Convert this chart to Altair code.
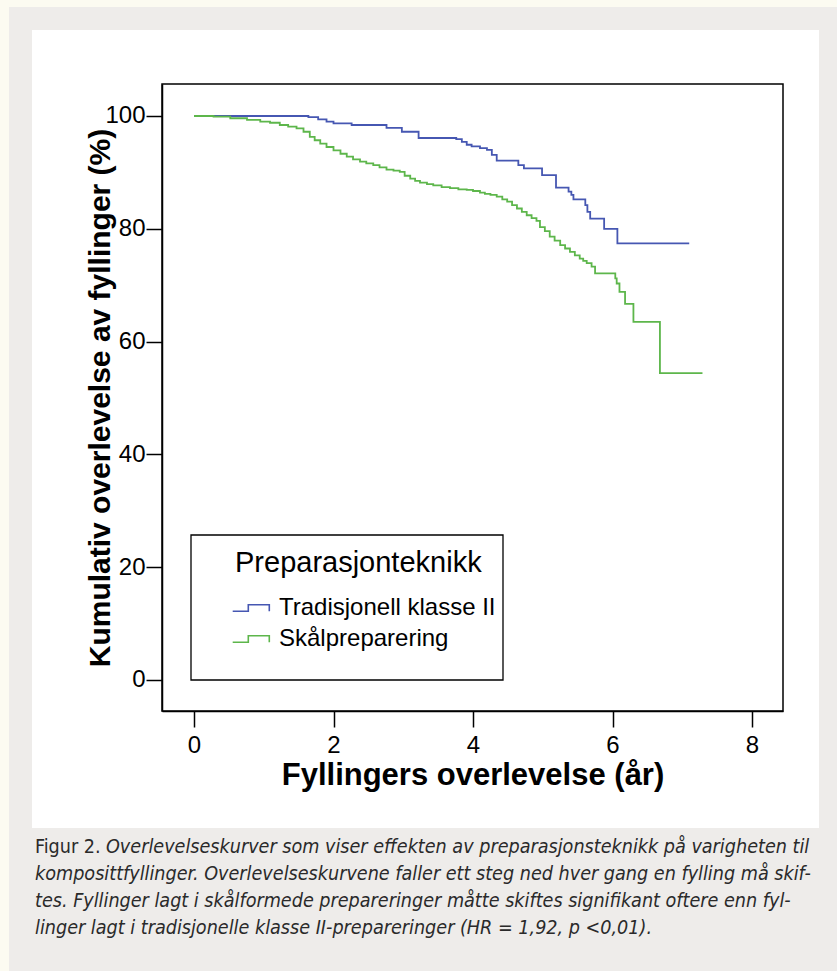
import altair as alt
import pandas as pd

# ---------------- data ----------------
series_names = ["Tradisjonell klasse II", "Skålpreparering"]
series_colors = ["#4657b2", "#5db64b"]

blue_t = [0, 1.64, 1.78, 1.90, 2.00, 2.26, 2.76, 2.98, 3.22, 3.76, 3.84, 3.91, 3.98, 4.10,
          4.20, 4.27, 4.34, 4.65, 4.73, 4.99, 5.19, 5.37, 5.41, 5.44, 5.61, 5.64, 5.68,
          5.88, 6.07, 7.10]
blue_s = [100, 99.8, 99.4, 99.0, 98.7, 98.4, 97.9, 97.2, 96.1, 95.9, 95.4, 94.9, 94.6, 94.3,
          94.0, 93.1, 92.1, 91.3, 90.7, 89.5, 87.3, 86.6, 86.0, 85.2, 84.2, 83.0, 81.8,
          80.0, 77.4, 77.4]

green_t = [0, 0.28, 0.52, 0.76, 0.95, 1.09, 1.23, 1.35, 1.47, 1.57,
           1.66, 1.73, 1.81, 1.90, 2.00, 2.10, 2.19, 2.28, 2.38, 2.47,
           2.57, 2.66, 2.76, 2.86, 2.95, 3.02, 3.10, 3.17, 3.24, 3.34,
           3.43, 3.55, 3.67, 3.79, 3.91, 4.00, 4.10, 4.17, 4.25, 4.34,
           4.42, 4.49, 4.56, 4.63, 4.70, 4.77, 4.84, 4.91, 4.96, 5.03,
           5.10, 5.17, 5.25, 5.32, 5.39, 5.46, 5.53, 5.58, 5.63, 5.70,
           5.75, 6.04, 6.06, 6.10, 6.18, 6.30, 6.68, 7.29]
green_s = [100, 99.9, 99.6, 99.3, 99.0, 98.8, 98.4, 98.1, 97.8, 97.2,
           96.3, 95.7, 95.1, 94.5, 93.9, 93.3, 92.8, 92.3, 91.9, 91.6,
           91.3, 90.9, 90.5, 90.3, 90.1, 89.4, 88.9, 88.5, 88.2, 87.9,
           87.7, 87.4, 87.2, 87.0, 86.9, 86.7, 86.4, 86.2, 86.0, 85.7,
           85.2, 84.8, 84.2, 83.6, 83.0, 82.4, 81.9, 81.4, 80.3, 79.6,
           78.6, 77.9, 77.1, 76.5, 75.9, 75.3, 74.7, 74.3, 73.9, 73.3,
           72.1, 71.2, 70.3, 68.8, 66.7, 63.5, 54.4, 54.4]

x_ticks = [0, 2, 4, 6, 8]
y_ticks = [0, 20, 40, 60, 80, 100]

x_title = "Fyllingers overlevelse (år)"
y_title = "Kumulativ overlevelse av fyllinger (%)"
legend_title = "Preparasjonteknikk"

caption_head = "Figur 2."
caption_lines = [
    "Overlevelseskurver som viser effekten av preparasjonsteknikk på varigheten til",
    "komposittfyllinger. Overlevelseskurvene faller ett steg ned hver gang en fylling må skif-",
    "tes. Fyllinger lagt i skålformede prepareringer måtte skiftes signifikant oftere enn fyl-",
    "linger lagt i tradisjonelle klasse II-prepareringer (HR = 1,92, p <0,01).",
]

# ---------------- table ----------------
rows = []
for t, s in zip(blue_t, blue_s):
    rows.append({"Tid": t, "Overlevelse": s, "Gruppe": series_names[0]})
for t, s in zip(green_t, green_s):
    rows.append({"Tid": t, "Overlevelse": s, "Gruppe": series_names[1]})
df = pd.DataFrame(rows)

W, H = 621, 627
FONT = "Liberation Sans"
CAP_FONT = "DejaVu Sans Condensed, Liberation Sans, sans-serif"
one = alt.Data(values=[{}])

bg_gray = alt.Chart(one).mark_rect(fill="#eeecea").encode(
    x=alt.value(-153), x2=alt.value(700), y=alt.value(-77), y2=alt.value(900))
bg_white = alt.Chart(one).mark_rect(fill="white").encode(
    x=alt.value(-130), x2=alt.value(657), y=alt.value(-54), y2=alt.value(744))
legend_box = alt.Chart(one).mark_rect(fill="white", stroke="black", strokeWidth=1.3).encode(
    x=alt.value(29), x2=alt.value(341), y=alt.value(451), y2=alt.value(596))
frame = alt.Chart(one).mark_rect(fillOpacity=0, stroke="black", strokeWidth=1.5).encode(
    x=alt.value(0), x2=alt.value(W), y=alt.value(0), y2=alt.value(H))

step_path = "M-1.22,0.22L-0.18,0.22L-0.18,-0.22L1.22,-0.22L1.22,0.22"

axis_common = dict(grid=False, domainColor="black", domainWidth=1.5, tickColor="black",
                   tickWidth=1.5, tickSize=16, labelFont=FONT, labelFontSize=24,
                   labelColor="black", titleFont=FONT,
                   titleFontWeight="bold", titleColor="black", zindex=1)

lines = alt.Chart(df).mark_line(interpolate="step-after", strokeWidth=1.8).encode(
    x=alt.X("Tid:Q",
            scale=alt.Scale(domain=[-0.4588, 8.4444], nice=False, zero=False),
            axis=alt.Axis(values=x_ticks, title=x_title, labelPadding=6,
                          titleX=W / 2, titleY=64, titleBaseline="middle",
                          titleAlign="center", titleFontSize=31, **axis_common)),
    y=alt.Y("Overlevelse:Q",
            scale=alt.Scale(domain=[-5.5, 105.67], nice=False, zero=False),
            axis=alt.Axis(values=y_ticks, title=y_title, labelPadding=1,
                          titleX=-62, titleY=H / 2, titleBaseline="middle",
                          titleAlign="center", titleAngle=-90, titleFontSize=30,
                          **axis_common)),
    color=alt.Color("Gruppe:N",
                    scale=alt.Scale(domain=series_names, range=series_colors),
                    legend=alt.Legend(orient="none", legendX=73, legendY=465,
                                      title=legend_title, titleFontSize=29,
                                      titleFont=FONT, titleFontWeight="normal",
                                      titleColor="black", titleAnchor="start",
                                      titlePadding=14, titleLimit=1000,
                                      labelFontSize=24, labelLimit=1000,
                                      labelFont=FONT, labelColor="black",
                                      symbolType=step_path, symbolSize=900,
                                      symbolStrokeWidth=1.6,
                                      symbolFillColor="transparent",
                                      labelOffset=12, rowPadding=3, padding=0,
                                      zindex=2)),
)

cap_x0 = -127
cap_italic_x = -56
cap_y = [769, 796, 823, 850]
cap_color = "#2a2a2a"
cap_size = 19.6
caption_layers = [
    alt.Chart(one).mark_text(align="left", baseline="alphabetic", font=CAP_FONT,
                             fontSize=cap_size, color=cap_color).encode(
        x=alt.value(cap_x0), y=alt.value(cap_y[0]), text=alt.value(caption_head))
]
for i, line in enumerate(caption_lines):
    caption_layers.append(
        alt.Chart(one).mark_text(align="left", baseline="alphabetic", font=CAP_FONT,
                                 fontSize=cap_size, fontStyle="italic", color=cap_color).encode(
            x=alt.value(cap_italic_x if i == 0 else cap_x0), y=alt.value(cap_y[i]),
            text=alt.value(line)))

chart = alt.layer(bg_gray, bg_white, legend_box, frame, lines, *caption_layers).properties(
    width=W, height=H,
    autosize=alt.AutoSizeParams(type="none"),
    padding={"left": 162, "top": 84, "right": 54, "bottom": 260},
    background="#fcfbf1",
).configure_view(strokeWidth=0)

chart.save("out.html", embed_options={"renderer": "svg", "actions": False})
